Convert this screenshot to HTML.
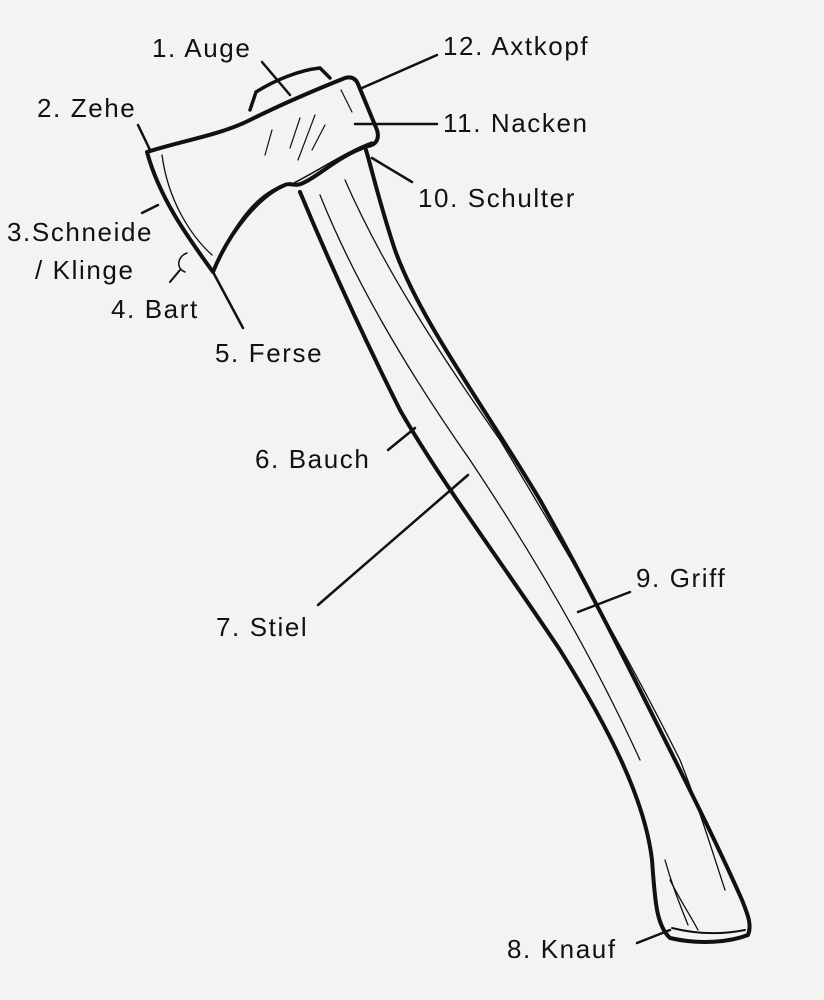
<!DOCTYPE html>
<html><head><meta charset="utf-8"><style>
html,body{margin:0;padding:0;background:#f3f3f3;}
svg{display:block}
text{font-family:"Liberation Sans",sans-serif;font-size:26px;letter-spacing:1.6px;fill:#111}
</style></head><body>
<svg width="824" height="1000" viewBox="0 0 824 1000">
<rect width="824" height="1000" fill="#f3f3f3"/>
<g fill="none" stroke="#111" stroke-linecap="round" stroke-linejoin="round">
<!-- handle -->
<path d="M300,192 C320,240 350,310 400,410 C440,480 500,560 560,650 C610,730 645,800 652,860 C655,900 656,925 670,938 C700,945 730,942 748,935 C752,925 748,915 742,900 C720,850 690,790 655,720 C620,650 585,580 540,500 C480,400 420,320 395,250 C380,205 372,170 366,150" stroke-width="4" fill="#f3f3f3"/>
<path d="M320,195 C350,270 400,360 470,460 C530,550 590,650 640,760" stroke-width="1.3"/>
<path d="M345,180 C380,260 430,340 500,440 C560,540 620,640 680,760 C700,810 715,860 725,890" stroke-width="1.3"/>
<path d="M670,880 C680,900 690,915 698,930" stroke-width="1.3"/>
<path d="M665,860 C672,885 680,905 688,925" stroke-width="1.3"/>
<path d="M672,928 C700,935 725,934 745,930" stroke-width="2"/>
<!-- eye tab -->
<path d="M250,110 L256,92 C275,80 300,70 320,68 L330,78" stroke-width="3.5" fill="#f3f3f3"/>
<!-- head -->
<path d="M147,152 C185,140 220,135 250,120 C280,105 320,88 345,78 C352,76 356,79 358,84 L377,130 C380,140 375,145 368,146 C340,155 320,175 305,182 C295,188 290,182 285,185 C260,195 230,230 213,272 C190,240 160,200 147,152 Z" stroke-width="4" fill="#f3f3f3"/>
<path d="M162,155 C168,200 190,235 212,255" stroke-width="1.3"/>
<path d="M212,272 C238,215 262,190 290,183" stroke-width="2"/>
<path d="M290,185 C320,170 345,152 372,142" stroke-width="1.5"/>
<path d="M272,130 L265,155 M300,118 L290,148 M315,115 L298,160 M325,125 L312,150 M341,90 L352,112" stroke-width="1.2"/>
<!-- leader lines -->
<path d="M262,62 L290,95"  stroke-width="2.5"/>
<path d="M437,55 L362,88" stroke-width="2.5"/>
<path d="M138,125 L150,150" stroke-width="2.5"/>
<path d="M437,124 L355,124" stroke-width="2.5"/>
<path d="M412,182 L372,158" stroke-width="2.5"/>
<path d="M142,213 L158,205" stroke-width="2.5"/>
<path d="M170,282 L180,270" stroke-width="2"/>
<path d="M187,253 C178,256 175,268 185,272" stroke-width="1.5"/>
<path d="M213,272 L243,328" stroke-width="2.5"/>
<path d="M388,450 L415,428" stroke-width="2.5"/>
<path d="M318,605 L468,475" stroke-width="2.5"/>
<path d="M630,592 L578,612" stroke-width="2.5"/>
<path d="M637,943 L670,930" stroke-width="2.5"/>
</g>
<text x="152" y="57">1. Auge</text>
<text x="443" y="55">12. Axtkopf</text>
<text x="37" y="117">2. Zehe</text>
<text x="443" y="132">11. Nacken</text>
<text x="418" y="207">10. Schulter</text>
<text x="7" y="241">3.Schneide</text>
<text x="35" y="279">/ Klinge</text>
<text x="111" y="318">4. Bart</text>
<text x="215" y="362">5. Ferse</text>
<text x="255" y="468">6. Bauch</text>
<text x="216" y="636">7. Stiel</text>
<text x="636" y="587">9. Griff</text>
<text x="507" y="958">8. Knauf</text>
</svg>
</body></html>
